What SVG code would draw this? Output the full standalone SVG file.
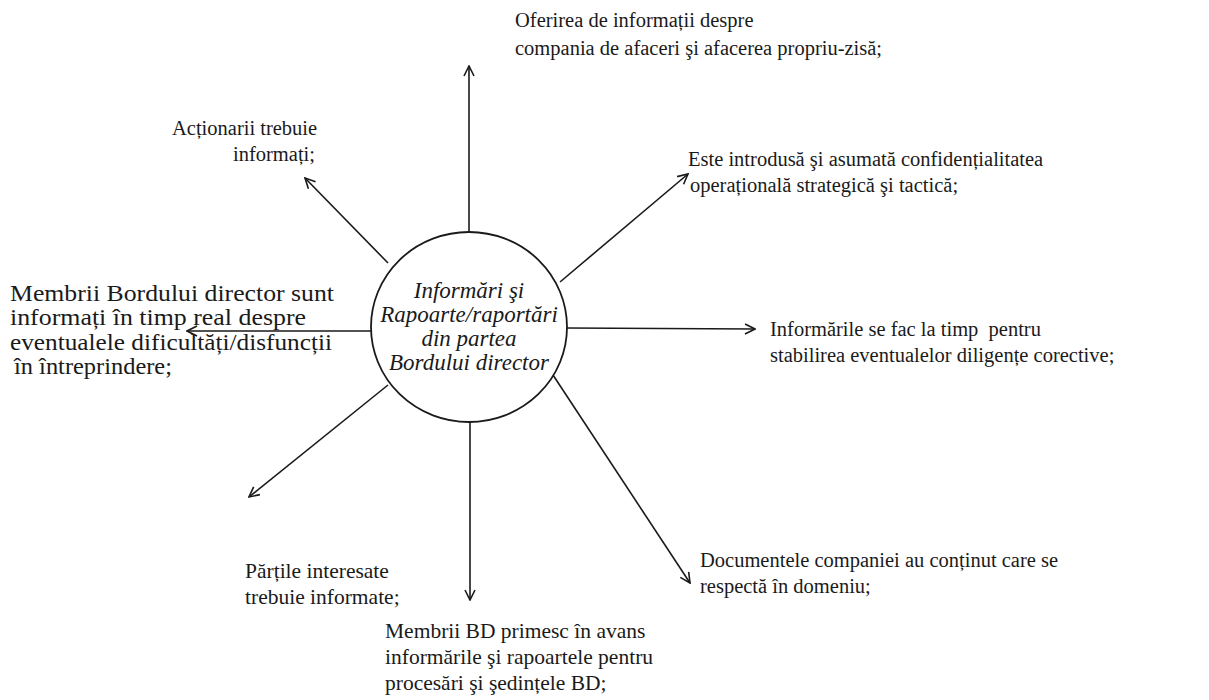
<svg xmlns="http://www.w3.org/2000/svg" width="1209" height="700" viewBox="0 0 1209 700">
  <style>
    .t { font-family: "Liberation Serif", "Times New Roman", serif; font-size: 20.5px; fill: #1a1a1a; }
    .b { font-family: "Liberation Serif", "Times New Roman", serif; font-size: 21.5px; fill: #1a1a1a; }
    .l { font-family: "Liberation Serif", "Times New Roman", serif; font-size: 23px; fill: #1a1a1a; }
    .c { font-family: "Liberation Serif", "Times New Roman", serif; font-size: 23px; font-style: italic; fill: #1a1a1a; text-anchor: middle; }
    .ln { stroke: #1a1a1a; stroke-width: 1.6; fill: none; marker-end: url(#arr); }
  </style>
  <defs>
    <marker id="arr" viewBox="0 0 12 12" refX="11" refY="6" markerWidth="12" markerHeight="12" markerUnits="userSpaceOnUse" orient="auto">
      <path d="M1,1 L11,6 L1,11" fill="none" stroke="#1a1a1a" stroke-width="1.6"/>
    </marker>
  </defs>
  <rect width="1209" height="700" fill="#ffffff"/>

  <!-- connectors radiating from the central ellipse -->
  <g id="connectors">
    <line class="ln" x1="469" y1="232" x2="469" y2="66"/>
    <line class="ln" x1="560" y1="282" x2="688" y2="174"/>
    <line class="ln" x1="567" y1="328" x2="755" y2="329"/>
    <line class="ln" x1="553" y1="375" x2="690" y2="583"/>
    <line class="ln" x1="470" y1="422" x2="470" y2="600"/>
    <line class="ln" x1="388" y1="385" x2="249" y2="497"/>
    <line class="ln" x1="371" y1="331" x2="187" y2="331"/>
    <line class="ln" x1="388" y1="263" x2="305" y2="178"/>
  </g>

  <g id="center">
    <ellipse cx="469" cy="327" rx="98" ry="95" fill="#ffffff" stroke="#1a1a1a" stroke-width="1.8"/>
    <text class="c" x="469" y="298">Informări şi</text>
    <text class="c" x="469" y="322">Rapoarte/raportări</text>
    <text class="c" x="469" y="346">din partea</text>
    <text class="c" x="469" y="370">Bordului director</text>
  </g>

  <g id="n-top">
    <text class="t" x="515" y="27">Oferirea de informații despre</text>
    <text class="t" x="515" y="55">compania de afaceri şi afacerea propriu-zisă;</text>
  </g>

  <g id="n-upper-left">
    <text class="t" x="172" y="135">Acționarii trebuie</text>
    <text class="t" x="233" y="161">informați;</text>
  </g>

  <g id="n-upper-right">
    <text class="t" x="688" y="166">Este introdusă şi asumată confidențialitatea</text>
    <text class="t" x="690" y="192">operațională strategică şi tactică;</text>
  </g>

  <g id="n-right">
    <text class="t" x="770" y="336" xml:space="preserve">Informările se fac la timp  pentru</text>
    <text class="t" x="770" y="362">stabilirea eventualelor diligențe corective;</text>
  </g>

  <g id="n-lower-right">
    <text class="t" x="700" y="567">Documentele companiei au conținut care se</text>
    <text class="t" x="700" y="593">respectă în domeniu;</text>
  </g>

  <g id="n-bottom">
    <text class="b" x="385" y="638">Membrii BD primesc în avans</text>
    <text class="b" x="385" y="664">informările şi rapoartele pentru</text>
    <text class="b" x="385" y="690">procesări şi şedințele BD;</text>
  </g>

  <g id="n-lower-left">
    <text class="b" x="245" y="578">Părțile interesate</text>
    <text class="b" x="245" y="604">trebuie informate;</text>
  </g>

  <g id="n-left">
    <text class="l" x="10" y="301" textLength="324" lengthAdjust="spacingAndGlyphs">Membrii Bordului director sunt</text>
    <text class="l" x="10" y="325" textLength="296" lengthAdjust="spacingAndGlyphs">informați în timp real despre</text>
    <text class="l" x="10" y="350" textLength="322" lengthAdjust="spacingAndGlyphs">eventualele dificultăți/disfuncții</text>
    <text class="l" x="14" y="374" textLength="158" lengthAdjust="spacingAndGlyphs">în întreprindere;</text>
  </g>
</svg>
